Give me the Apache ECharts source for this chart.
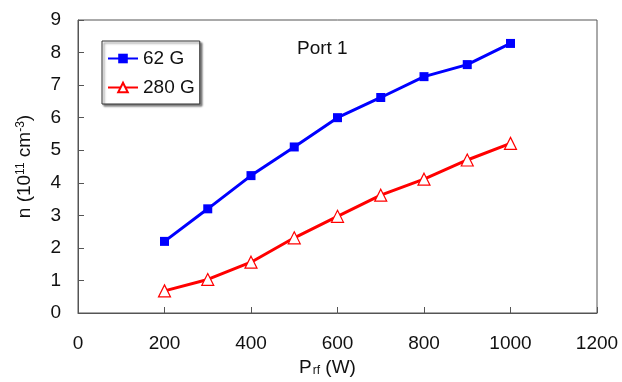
<!DOCTYPE html>
<html>
<head>
<meta charset="utf-8">
<script src="https://cdn.jsdelivr.net/npm/echarts@6/dist/echarts.min.js"></script>
<style>
	html, body { margin: 0; padding: 0; background: #fff; }
	#chart { width: 622px; height: 382px; }
</style>
</head>
<body>
<div id="chart"></div>
<script>
// rf power (W)
const power = [200, 300, 400, 500, 600, 700, 800, 900, 1000];
// density, 10^11 cm^-3
const n62G = [2.2, 3.2, 4.22, 5.1, 6.0, 6.62, 7.26, 7.63, 8.28];
const n280G = [0.68, 1.03, 1.56, 2.31, 2.97, 3.62, 4.11, 4.7, 5.21];

const font = 'Liberation Sans, Arial, sans-serif';
const pair = (xs, ys) => xs.map((x, i) => [x, ys[i]]);

const chart = echarts.init(document.getElementById('chart'));

chart.setOption({
	animation: false,
	textStyle: { fontFamily: font },
	grid: {
		left: 78,
		right: 25,
		top: 20,
		bottom: 69,
		show: true,
		borderColor: '#555',
		borderWidth: 1,
	},
	title: {
		text: 'Port 1',
		left: 292,
		top: 34,
		textStyle: { fontSize: 19, fontWeight: 'normal', color: '#111', fontFamily: font },
	},
	legend: {
		orient: 'vertical',
		left: 102,
		top: 41,
		width: 100,
		padding: [8, 5, 7, 5],
		itemGap: 10,
		itemWidth: 30,
		itemHeight: 12,
		borderColor: '#333',
		borderWidth: 1,
		backgroundColor: '#fff',
		shadowColor: 'rgba(0,0,0,0.5)',
		shadowOffsetX: 2,
		shadowOffsetY: 2,
		shadowBlur: 2,
		textStyle: {
			fontSize: 19,
			color: '#111',
			width: 58,
			align: 'right',
			fontFamily: font,
		},
		data: ['62 G', '280 G'],
	},
	xAxis: {
		type: 'value',
		min: 0,
		max: 1200,
		interval: 200,
		name: '{m|P}{s|rf}{m| (W)}',
		nameLocation: 'middle',
		nameGap: 39,
		nameTextStyle: {
			padding: [0, 20, 0, 0],
			rich: {
				m: { fontSize: 19, color: '#111', fontFamily: font },
				s: { fontSize: 12, color: '#111', fontFamily: font, verticalAlign: 'bottom', padding: [7, 0, 0, 1] },
			},
		},
		axisLine: { lineStyle: { color: '#555', width: 1 } },
		axisTick: { inside: true, length: 6, lineStyle: { color: '#555' } },
		axisLabel: { fontSize: 19, color: '#111', margin: 21, formatter: v => String(v) },
		splitLine: { show: false },
	},
	yAxis: {
		type: 'value',
		min: 0,
		max: 9,
		interval: 1,
		name: '{m|n (10}{u|11}{m| cm}{u|-3}{m|)}',
		nameLocation: 'middle',
		nameRotate: 90,
		nameGap: 44,
		nameTextStyle: {
			rich: {
				m: { fontSize: 19, color: '#111', fontFamily: font },
				u: { fontSize: 12, color: '#111', fontFamily: font, verticalAlign: 'top', padding: [0, 0, 7, 0] },
			},
		},
		axisLine: { show: true, lineStyle: { color: '#555', width: 1 } },
		axisTick: { show: true, inside: true, length: 6, lineStyle: { color: '#555' } },
		axisLabel: { fontSize: 19, color: '#111', margin: 17 },
		splitLine: { show: false },
	},
	series: [
		{
			name: '62 G',
			type: 'line',
			data: pair(power, n62G),
			symbol: 'rect',
			symbolSize: 9,
			lineStyle: { color: '#0000ff', width: 3 },
			itemStyle: { color: '#0000ff' },
		},
		{
			name: '280 G',
			type: 'line',
			data: pair(power, n280G),
			symbol: 'triangle',
			symbolSize: 12,
			lineStyle: { color: '#ff0000', width: 3 },
			itemStyle: { color: '#fff', borderColor: '#ff0000', borderWidth: 1.2 },
		},
	],
});
</script>
</body>
</html>
